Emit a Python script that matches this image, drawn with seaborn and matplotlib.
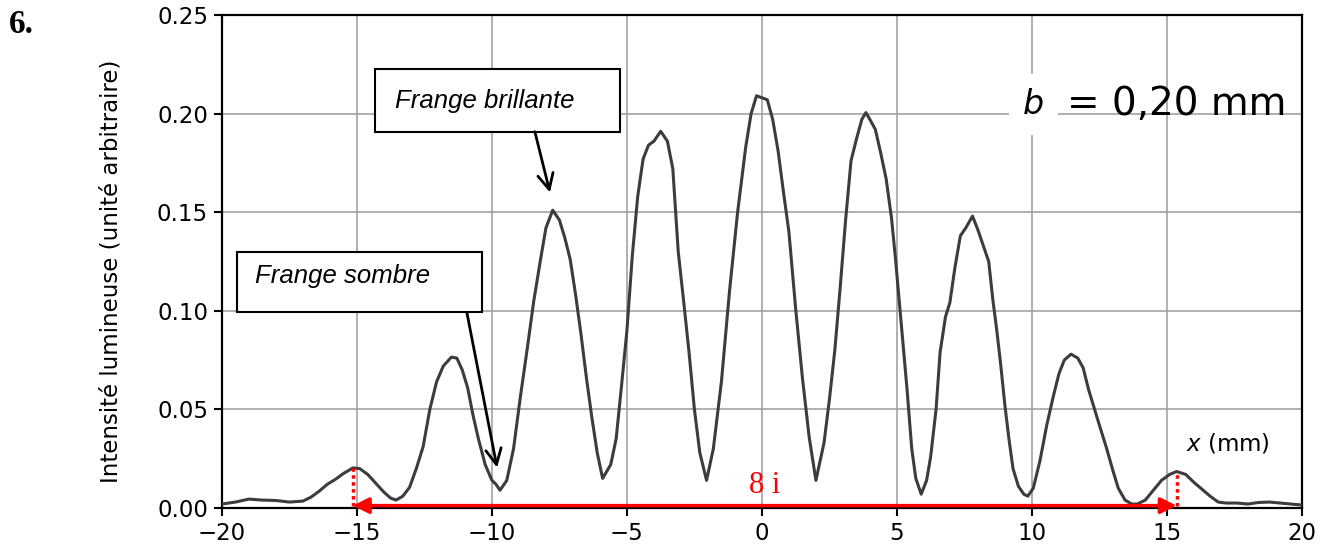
import matplotlib
matplotlib.use("Agg")
import matplotlib.pyplot as plt
import matplotlib.patches as mpatches
import seaborn as sns
import pandas as pd
import numpy as np

# intensity profile (x in mm)
x_mm = [
    -20.0, -19.5, -19.0, -18.5, -18.0, -17.5, -17.0, -16.7, -16.4, -16.1,
    -15.8, -15.5, -15.15, -14.9, -14.6, -14.3, -14.0, -13.75,
    -13.55, -13.3, -13.05, -12.8, -12.55, -12.3, -12.05, -11.8, -11.5, -11.3,
    -11.1, -10.9, -10.7, -10.5, -10.25, -10.0, -9.85,
    -9.7, -9.45, -9.2, -8.95, -8.7, -8.45, -8.2, -8.0, -7.75, -7.5,
    -7.3, -7.1, -6.9, -6.7, -6.5, -6.3, -6.1,
    -5.9, -5.6, -5.4, -5.2, -5.0, -4.8, -4.6, -4.4, -4.2, -4.0,
    -3.75, -3.5, -3.3, -3.1, -2.9, -2.7, -2.5, -2.3,
    -2.05, -1.8, -1.5, -1.2, -0.9, -0.6, -0.4, -0.2, 0.0, 0.2,
    0.4, 0.6, 0.8, 1.0, 1.25, 1.5, 1.75,
    2.0, 2.3, 2.5, 2.7, 2.9, 3.1, 3.3, 3.5, 3.7, 3.85,
    4.0, 4.2, 4.4, 4.6, 4.8, 4.95, 5.15, 5.37, 5.55, 5.7,
    5.9, 6.1, 6.25, 6.45, 6.6, 6.8, 6.96, 7.15, 7.35, 7.55,
    7.8, 8.0, 8.15, 8.4, 8.55, 8.7, 8.85, 9.0, 9.15, 9.3, 9.5, 9.7,
    9.85, 10.05, 10.3, 10.55, 10.8, 11.0, 11.2, 11.45, 11.7, 11.9,
    12.1, 12.3, 12.5, 12.75, 13.0, 13.2, 13.45, 13.7,
    13.9, 14.2, 14.5, 14.8, 15.1, 15.36, 15.7, 16.0, 16.3, 16.6,
    16.9, 17.2, 17.6, 18.0, 18.4, 18.8, 19.2, 19.6, 20.0,
]
intensity = [
    0.002, 0.003, 0.0045, 0.004, 0.0038, 0.003, 0.0035, 0.0055, 0.0085, 0.012,
    0.0145, 0.0175, 0.0203, 0.020, 0.017, 0.0125, 0.008, 0.005,
    0.004, 0.006, 0.0105, 0.020, 0.031, 0.050, 0.064, 0.072, 0.0765, 0.076,
    0.070, 0.061, 0.047, 0.035, 0.022, 0.014, 0.012,
    0.009, 0.014, 0.030, 0.056, 0.080, 0.105, 0.126, 0.142, 0.151, 0.146,
    0.137, 0.126, 0.108, 0.088, 0.066, 0.046, 0.028,
    0.015, 0.022, 0.035, 0.062, 0.090, 0.128, 0.158, 0.177, 0.184, 0.186,
    0.191, 0.186, 0.172, 0.130, 0.105, 0.079, 0.050, 0.028,
    0.014, 0.030, 0.064, 0.110, 0.150, 0.183, 0.200, 0.209, 0.208, 0.207,
    0.197, 0.181, 0.160, 0.140, 0.101, 0.066, 0.036,
    0.014, 0.033, 0.055, 0.080, 0.112, 0.146, 0.176, 0.187, 0.197, 0.2005,
    0.197, 0.192, 0.180, 0.167, 0.147, 0.126, 0.095, 0.061, 0.030, 0.015,
    0.007, 0.014, 0.026, 0.050, 0.079, 0.097, 0.104, 0.122, 0.138, 0.142,
    0.148, 0.141, 0.135, 0.125, 0.106, 0.090, 0.072, 0.052, 0.035, 0.020, 0.011, 0.007,
    0.006, 0.010, 0.024, 0.042, 0.057, 0.068, 0.075, 0.078, 0.076, 0.071,
    0.060, 0.051, 0.042, 0.031, 0.019, 0.010, 0.004, 0.002,
    0.002, 0.004, 0.009, 0.014, 0.017, 0.0185, 0.017, 0.013, 0.0095, 0.006,
    0.003, 0.0025, 0.0025, 0.002, 0.0028, 0.003, 0.0025, 0.002, 0.0015,
]
x_ticks = [-20, -15, -10, -5, 0, 5, 10, 15, 20]
y_ticks = [0.00, 0.05, 0.10, 0.15, 0.20, 0.25]

df = pd.DataFrame({"x": x_mm, "I": intensity})

sns.set_style("whitegrid")
plt.rcParams["font.family"] = ["DejaVu Sans"]
plt.rcParams["text.color"] = "black"
plt.rcParams["axes.labelcolor"] = "black"
plt.rcParams["xtick.color"] = "black"
plt.rcParams["ytick.color"] = "black"

fig = plt.figure(figsize=(13.29, 5.5), dpi=100)
ax = fig.add_axes([0.167, 0.0764, 0.8126, 0.8964])

sns.lineplot(data=df, x="x", y="I", ax=ax, color="#3c3c3c", lw=2.2, zorder=3)

ax.set_xlim(-20, 20)
ax.set_ylim(0, 0.25)
ax.set_xticks(x_ticks)
ax.set_yticks(y_ticks)
ax.set_yticklabels([f"{v:.2f}" for v in y_ticks])
ax.tick_params(axis="both", labelsize=16.5, direction="out", length=6,
               width=1.5, colors="black", left=True, bottom=True, pad=4)
ax.grid(True, color="#9a9a9a", lw=1.1)
for s in ax.spines.values():
    s.set_color("black")
    s.set_linewidth(1.6)
ax.set_xlabel("")
ax.set_ylabel("Intensité lumineuse (unité arbitraire)", fontsize=16.5, color="black")
ax.yaxis.set_label_coords(-0.092, 0.48)

# annotation boxes
def boxed_label(x0, y0, x1, y1, tx, ty, text):
    rect = mpatches.Rectangle((x0, y0), x1 - x0, y1 - y0, facecolor="white",
                              edgecolor="black", lw=1.5, zorder=5)
    ax.add_patch(rect)
    ax.text(tx, ty, text, fontsize=18.5, style="italic", color="black",
            family=["Liberation Sans", "DejaVu Sans"],
            ha="left", va="center", zorder=6)

boxed_label(-14.33, 0.1908, -5.26, 0.2226, -13.6, 0.2064, "Frange brillante")
boxed_label(-19.44, 0.0992, -10.37, 0.130, -18.78, 0.1175, "Frange sombre")

arrow_kw = dict(arrowstyle="->", lw=2.0, color="black", mutation_scale=28,
                shrinkA=0, shrinkB=0)
ax.annotate("", xy=(-7.85, 0.160), xytext=(-8.41, 0.1908), arrowprops=arrow_kw, zorder=6)
ax.annotate("", xy=(-9.81, 0.0205), xytext=(-10.93, 0.0992), arrowprops=arrow_kw, zorder=6)

# slit width label
ax.text(10.05, 0.2046, "b", fontsize=24, style="italic", ha="center", va="center",
        color="black", bbox=dict(facecolor="white", edgecolor="none", pad=10), zorder=6)
ax.text(11.3, 0.2046, "= 0,20 mm", fontsize=28, ha="left", va="center",
        color="black", zorder=6)
ax.text(15.7, 0.0329, "$x$ (mm)", fontsize=16.5, ha="left", va="center",
        color="black", zorder=6)

# red measurement of 8 i between the outer secondary maxima
xa = np.array(x_mm)
ya = np.array(intensity)
left = xa < -14
right = xa > 14
xl, yl = xa[left][ya[left].argmax()], ya[left].max()
xr, yr = xa[right][ya[right].argmax()], ya[right].max()
y_arrow = 0.0012
ax.annotate("", xy=(xl, y_arrow), xytext=(xr, y_arrow), zorder=7,
            arrowprops=dict(arrowstyle="<|-|>", color="red", lw=2.5,
                            mutation_scale=24, shrinkA=0, shrinkB=0))
ax.plot([xl, xl], [y_arrow, yl], color="red", ls=(0, (1, 1)), lw=2.5, zorder=7)
ax.plot([xr, xr], [y_arrow, yr], color="red", ls=(0, (1, 1)), lw=2.5, zorder=7)
ax.text((xl + xr) / 2, 0.0115, "8 i", color="red", fontsize=22,
        family=["Liberation Serif", "DejaVu Serif"], ha="center", va="center", zorder=7)

fig.text(0.007, 0.955, "6.", fontsize=24, fontweight="bold", color="black",
         family=["Liberation Serif", "DejaVu Serif"], ha="left", va="center")

fig.savefig("out.png", dpi=100)
